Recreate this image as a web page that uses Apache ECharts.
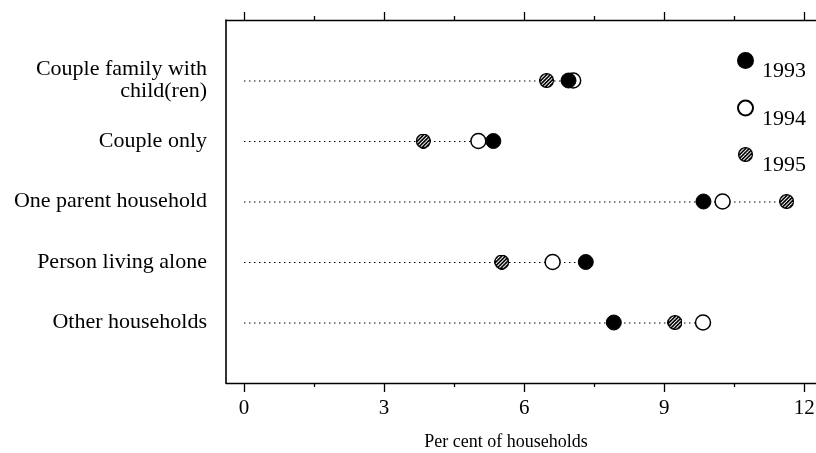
<!DOCTYPE html>
<html>
<head>
<meta charset="utf-8">
<script src="https://cdn.jsdelivr.net/npm/echarts@6/dist/echarts.min.js"></script>
<style>
html,body{margin:0;padding:0;background:#fff;}
#chart{width:816px;height:453px;}
</style>
</head>
<body>
<div id="chart"></div>
<script>
var categories = ['Couple family with\nchild(ren)', 'Couple only', 'One parent household', 'Person living alone', 'Other households'];
var years = ['1993', '1994', '1995'];
var values1993 = [6.95, 5.34, 9.84, 7.32, 7.92];
var values1994 = [7.05, 5.02, 10.25, 6.61, 9.83];
var values1995 = [6.48, 3.84, 11.62, 5.52, 9.23];
var tickValues = [0, 3, 6, 9, 12];
var minorTickValues = [1.5, 4.5, 7.5, 10.5];
var axisTitle = 'Per cent of households';

var FONT = 'Liberation Serif';

// hatched circle symbol for 1995
var S = 45;
var pc = document.createElement('canvas');
pc.width = S; pc.height = S;
var ctx = pc.getContext('2d');
ctx.beginPath();
ctx.arc(S / 2, S / 2, S / 2 - 1, 0, Math.PI * 2);
ctx.fillStyle = '#000';
ctx.fill();
ctx.save();
ctx.clip();
ctx.strokeStyle = '#fff';
ctx.lineWidth = 3;
for (var k = -S; k < 2 * S; k += 11) {
  ctx.beginPath();
  ctx.moveTo(k, S); ctx.lineTo(k + S, 0);
  ctx.stroke();
}
ctx.restore();
ctx.beginPath();
ctx.arc(S / 2, S / 2, S / 2 - 2, 0, Math.PI * 2);
ctx.strokeStyle = '#000';
ctx.lineWidth = 4;
ctx.stroke();
var hatchSymbol = 'image://' + pc.toDataURL();

function pts(arr) { return arr.map(function (v, i) { return [v, i]; }); }
var rowMax = categories.map(function (c, i) {
  return [Math.max(values1993[i], values1994[i], values1995[i]), i];
});

var xmin = -0.385, xmax = 12.25;
function xa(pos, ticks, len, line, labels) {
  return {
    type: 'value', position: pos, min: xmin, max: xmax,
    splitLine: { show: false },
    axisLine: { show: line, onZero: false, lineStyle: { color: '#000', width: 1.3 } },
    axisTick: { show: true, customValues: ticks, length: len, lineStyle: { color: '#000', width: 1.3 } },
    axisLabel: labels ? { show: true, customValues: tickValues, color: '#000', fontFamily: FONT, fontSize: 21, margin: 15 } : { show: false }
  };
}
var x0 = xa('bottom', tickValues, 9, true, true);
x0.name = axisTitle;
x0.nameLocation = 'middle';
x0.nameGap = 50;
x0.nameTextStyle = { color: '#000', fontFamily: FONT, fontSize: 18, padding: [0, 30, 0, 0] };

var chart = echarts.init(document.getElementById('chart'));
chart.setOption({
  animation: false,
  backgroundColor: '#fff',
  grid: { left: 226, right: 0, top: 20, bottom: 70, containLabel: false, outerBoundsMode: 'none' },
  legend: {
    data: years,
    orient: 'vertical',
    left: 732,
    top: 47,
    itemWidth: 15,
    itemHeight: 15,
    itemGap: 17,
    formatter: '{a|{name}}',
    textStyle: {
      color: '#000', fontFamily: FONT, fontSize: 22,
      rich: { a: { color: '#000', fontFamily: FONT, fontSize: 22, padding: [22, 0, 0, 4] } }
    }
  },
  xAxis: [
    x0,
    xa('top', tickValues, 8, true, false),
    xa('bottom', minorTickValues, 4, false, false),
    xa('top', minorTickValues, 4, false, false)
  ],
  yAxis: {
    type: 'value', inverse: true, min: -1, max: 5, interval: 1,
    splitLine: { show: false },
    axisLine: { show: true, onZero: false, lineStyle: { color: '#000', width: 1.6 } },
    axisTick: { show: false },
    axisLabel: {
      color: '#000', fontFamily: FONT, fontSize: 22, margin: 19, lineHeight: 22,
      formatter: function (v) { return (v >= 0 && v < categories.length && v === Math.round(v)) ? categories[v] : ''; }
    }
  },
  series: [
    {
      type: 'custom', name: 'guide', silent: true,
      data: rowMax,
      renderItem: function (params, api) {
        var a = api.coord([0, api.value(1)]);
        var b = api.coord([api.value(0), api.value(1)]);
        return { type: 'line', shape: { x1: a[0], y1: a[1] + 0.5, x2: b[0], y2: b[1] + 0.5 },
                 style: { stroke: '#000', lineWidth: 1, lineDash: [1.5, 3.5] } };
      },
      z: 1
    },
    { type: 'scatter', name: '1994', data: pts(values1994), symbol: 'circle', symbolSize: 15,
      itemStyle: { color: '#fff', borderColor: '#000', borderWidth: 1.5, opacity: 1 }, z: 2 },
    { type: 'scatter', name: '1995', data: pts(values1995), symbol: hatchSymbol, symbolSize: 15,
      itemStyle: { color: '#000', opacity: 1 }, z: 3 },
    { type: 'scatter', name: '1993', data: pts(values1993), symbol: 'circle', symbolSize: 15,
      itemStyle: { color: '#000', borderColor: '#000', borderWidth: 1, opacity: 1 }, z: 4 }
  ]
});
</script>
</body>
</html>
